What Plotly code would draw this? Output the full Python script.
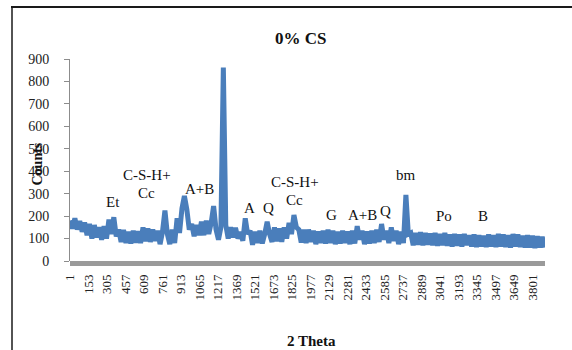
import plotly.graph_objects as go

# ---- data ----
step = 20
counts = [
    180, 145, 190, 140, 178, 130, 172, 115, 165, 100,
    160, 105, 150, 95, 155, 100, 185, 120, 195, 110,
    140, 85, 138, 80, 130, 78, 135, 82, 132, 80,
    150, 88, 145, 85, 140, 90, 135, 75, 130, 225,
    120, 75, 140, 80, 190, 125, 235, 290, 230, 140,
    165, 110, 160, 115, 175, 115, 180, 120, 170, 245,
    140, 95, 150, 862, 160, 100, 150, 105, 148, 100,
    130, 90, 190, 120, 135, 72, 130, 80, 135, 78,
    120, 175, 120, 85, 150, 88, 145, 85, 150, 100,
    170, 120, 205, 150, 140, 82, 140, 80, 140, 85,
    135, 75, 132, 80, 135, 78, 140, 80, 135, 75,
    130, 78, 135, 80, 132, 75, 135, 78, 155, 95,
    135, 75, 132, 78, 135, 80, 140, 85, 165, 95,
    135, 80, 150, 90, 135, 75, 130, 80, 295, 120,
    125, 70, 125, 72, 128, 70, 125, 72, 122, 70,
    125, 68, 120, 70, 125, 68, 118, 65, 120, 68,
    118, 65, 120, 70, 115, 65, 118, 62, 115, 65,
    112, 62, 118, 65, 115, 62, 120, 65, 118, 62,
    115, 60, 120, 65, 118, 62, 112, 60, 115, 60,
    112, 58, 110, 60, 108, 60,
]
theta = [1 + step * i for i in range(len(counts))]

tick_vals = list(range(1, 3802, 152))
tick_text = [str(v) for v in tick_vals]

peak_labels = ["Po", "Et", "C-S-H+", "Cc", "A+B", "A", "Q", "C-S-H+", "Cc",
               "G", "A+B", "Q", "bm", "Po", "B"]
label_x = [1263, 351, 630, 630, 1066, 1477, 1634, 1848, 1848,
           2152, 2407, 2597, 2762, 3073, 3394]
label_y = [967, 263, 383, 303, 321, 236, 236, 352, 272,
           205, 205, 223, 383, 200, 200]

# ---- layout helpers (pixel -> paper) ----
L, R, T, B = 70, 545, 59, 261
def px(x):
    return (x - L) / (R - L)
def py(y):
    return (B - y) / (B - T)

SERIF = "Liberation Serif"

fig = go.Figure()
fig.add_trace(go.Scatter(
    x=theta, y=counts, mode="lines",
    line=dict(color="#4a7ebb", width=5, simplify=False),
    hoverinfo="skip", showlegend=False,
))

annotations = []
for t, xv, yv in zip(peak_labels, label_x, label_y):
    annotations.append(dict(x=xv, y=yv, xref="x", yref="y", text=t,
                            showarrow=False,
                            font=dict(family=SERIF, size=15, color="#111")))

annotations.append(dict(x=px(300), y=py(27), xref="paper", yref="paper",
                        text="<b>0% CS</b>", showarrow=False,
                        font=dict(family=SERIF, size=17, color="#111")))
annotations.append(dict(x=px(311), y=py(331), xref="paper", yref="paper",
                        yanchor="top", text="<b>2 Theta</b>", showarrow=False,
                        font=dict(family=SERIF, size=15, color="#111")))
annotations.append(dict(x=px(27), y=py(164), xref="paper", yref="paper",
                        text="<b>Counts</b>", textangle=-90, showarrow=False,
                        font=dict(family=SERIF, size=14, color="#111")))

shapes = [
    # 3D-like floor under the plot
    dict(type="rect", xref="paper", yref="paper",
         x0=0, x1=1, y0=py(266), y1=py(261),
         fillcolor="#9a9a9a", line=dict(width=0), layer="below"),
    # outer frame (top and left edges visible)
    dict(type="line", xref="paper", yref="paper",
         x0=px(11), x1=px(574), y0=py(7), y1=py(7),
         line=dict(color="#1a1a1a", width=2)),
    dict(type="line", xref="paper", yref="paper",
         x0=px(12), x1=px(12), y0=py(7), y1=py(352),
         line=dict(color="#1a1a1a", width=1.5)),
]

fig.update_layout(
    width=572, height=350,
    margin=dict(l=L, r=572 - R, t=T, b=350 - B),
    paper_bgcolor="white", plot_bgcolor="white",
    annotations=annotations, shapes=shapes,
    xaxis=dict(
        range=[1, 3904], tickmode="array", tickvals=tick_vals, ticktext=tick_text,
        tickangle=-90, showgrid=False, zeroline=False, showline=False,
        ticks="", ticklabelstandoff=10,
        tickfont=dict(family=SERIF, size=13, color="#222"),
    ),
    yaxis=dict(
        range=[0, 900], tickvals=list(range(0, 901, 100)),
        showgrid=False, zeroline=False, showline=True, linecolor="#8c8c8c",
        linewidth=1, ticks="outside", ticklen=5, tickcolor="#8c8c8c",
        ticklabelstandoff=12,
        tickfont=dict(family=SERIF, size=14, color="#222"),
    ),
)

fig.write_html("out.html")
